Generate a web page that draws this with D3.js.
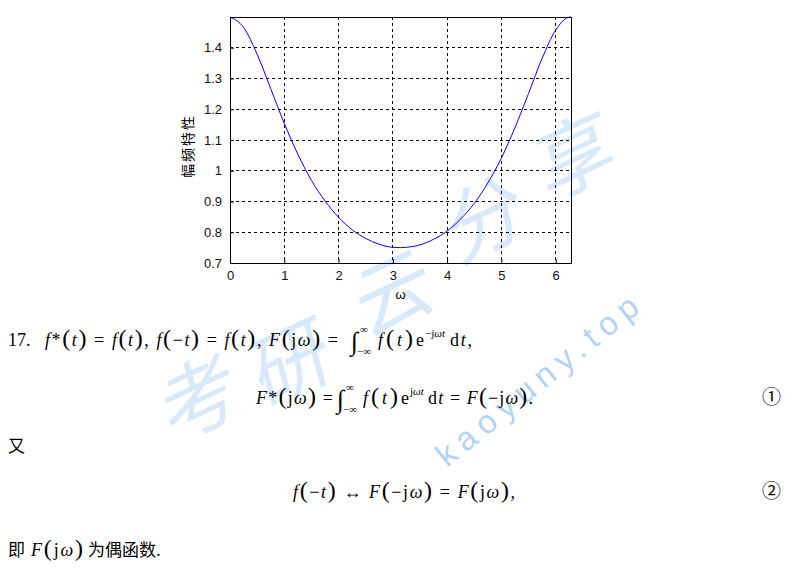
<!DOCTYPE html>
<html><head><meta charset="utf-8">
<script src="https://cdn.jsdelivr.net/npm/d3@7"></script>
<style>body{margin:0;background:#fff}svg{display:block}
.serif{font-family:'Liberation Serif','Times New Roman',serif}
.cjk{font-family:'Noto Sans CJK SC',sans-serif}
.sans{font-family:'Liberation Sans',Arial,sans-serif}
</style>
</head><body>
<script>
// ---- data ----
const omega = [0,0.25,0.5,0.75,1.0,1.25,1.5,1.75,2.0,2.25,2.5,2.75,3.0,3.1416,3.25,3.5,3.75,4.0,4.25,4.5,4.75,5.0,5.25,5.5,5.75,6.0,6.25,6.2832];
const magnitude = [1.5,1.466,1.379,1.267,1.154,1.054,0.969,0.902,0.849,0.808,0.780,0.761,0.751,0.750,0.751,0.759,0.777,0.804,0.843,0.894,0.960,1.041,1.140,1.251,1.365,1.457,1.4995,1.5];
const xTicks = [0,1,2,3,4,5,6];
const yTicks = [0.7,0.8,0.9,1.0,1.1,1.2,1.3,1.4];
const xDomain = [0, 6.2832];
const yDomain = [0.7, 1.5];
const xLabel = "ω";
const yLabel = "幅频特性";

const W = 788, H = 569;
const svg = d3.select("body").append("svg").attr("width", W).attr("height", H);

// ---- watermark ----
const wm = svg.append("g").attr("fill", "#d8e9fc");
const wmChars = ["考","研","云","分","享"];
const wmPos = [[198,392],[290,356],[392,286],[484,212],[574,150]];
wmChars.forEach((c,i)=>{
  wm.append("text").attr("class","cjk").attr("transform",`translate(${wmPos[i][0]},${wmPos[i][1]}) rotate(-25) skewX(-10)`)
    .attr("text-anchor","middle").attr("dominant-baseline","central")
    .attr("font-size",80).text(c);
});
svg.append("text").attr("class","sans").attr("transform","translate(447,468) rotate(-39)")
  .attr("font-size",33).attr("fill","#b3d3f5")
  .attr("textLength",250).attr("lengthAdjust","spacing").text("kaoyuny.top");

// ---- plot ----
const L = 230, R = 571, T = 17, B = 263;
const x = d3.scaleLinear().domain(xDomain).range([L, R]);
const y = d3.scaleLinear().domain(yDomain).range([B, T]);
const g = svg.append("g");

// grid
g.append("g").selectAll("line").data(xTicks.filter(d=>d>0)).join("line")
  .attr("x1",d=>x(d)).attr("x2",d=>x(d)).attr("y1",T).attr("y2",B)
  .attr("stroke","#000").attr("stroke-dasharray","3,3").attr("shape-rendering","crispEdges");
g.append("g").selectAll("line").data(yTicks.filter(d=>d>0.7)).join("line")
  .attr("x1",L).attr("x2",R).attr("y1",d=>y(d)).attr("y2",d=>y(d))
  .attr("stroke","#000").attr("stroke-dasharray","3,3").attr("shape-rendering","crispEdges");

// axes with d3
const xAxis = d3.axisBottom(x).tickValues(xTicks).tickFormat(d3.format("d")).tickSizeInner(-4).tickSizeOuter(0).tickPadding(6);
const yAxis = d3.axisLeft(y).tickValues(yTicks).tickFormat(d=>String(+d.toFixed(1))).tickSizeInner(-4).tickSizeOuter(0).tickPadding(8);
const gx = g.append("g").attr("transform",`translate(0,${B})`).call(xAxis);
const gy = g.append("g").attr("transform",`translate(${L},0)`).call(yAxis);
[gx,gy].forEach(a=>{
  a.select(".domain").remove();
  a.selectAll("line").attr("stroke","#000");
  a.selectAll("text").attr("class","sans").attr("font-family",null).attr("font-size",13).attr("fill","#111");
});
gx.selectAll("text").attr("dy","0.85em");

// line
const line = d3.line().x((d,i)=>x(omega[i])).y(d=>y(d)).curve(d3.curveMonotoneX);
g.append("path").datum(magnitude).attr("d",line).attr("fill","none").attr("stroke","#0000ff").attr("stroke-width",1);

// box
g.append("rect").attr("x",L).attr("y",T).attr("width",R-L).attr("height",B-T)
  .attr("fill","none").attr("stroke","#000").attr("stroke-width",1).attr("shape-rendering","crispEdges");

// labels
g.append("text").attr("class","sans").attr("x",(L+R)/2).attr("y",299).attr("text-anchor","middle")
  .attr("font-size",13).text(xLabel);
g.append("text").attr("class","cjk").attr("transform",`translate(193,146) rotate(-90)`).attr("text-anchor","middle")
  .attr("font-size",14).attr("letter-spacing",2).text(yLabel);

// ---- text below the chart ----
function mtext(x0, y0, parts, len, size=18){
  const t = svg.append("text").attr("class","serif").attr("x",x0).attr("y",y0).attr("font-size",size).attr("fill","#000");
  parts.forEach(p=>{
    const [s,o] = typeof p === "string" ? [p,{}] : p;
    const ts = t.append("tspan").text(s);
    if(o.i) ts.attr("font-style","italic");
    if(o.s) ts.attr("font-size",o.s);
  });
  if(len) t.attr("textLength",len).attr("lengthAdjust","spacing");
  return t;
}
const P = s=>[s,{s:24}];
function integral(x0, yb){
  svg.append("text").attr("class","serif").attr("x",x0).attr("y",yb+4).attr("font-size",26).text("∫");
  svg.append("text").attr("class","serif").attr("x",x0+9).attr("y",yb-13).attr("font-size",11).text("∞");
  svg.append("text").attr("class","serif").attr("x",x0+6).attr("y",yb+9).attr("font-size",11).text("−∞");
}
function supJwt(x0, yb, neg){
  const t = svg.append("text").attr("class","serif").attr("x",x0).attr("y",yb-9).attr("font-size",11);
  if(neg) t.append("tspan").text("−");
  t.append("tspan").text("j");
  t.append("tspan").attr("font-style","italic").text("ωt");
}

// line 1
svg.append("text").attr("class","serif").attr("x",8).attr("y",346).attr("font-size",18).text("17.");
mtext(45,346,[["f",{i:1}],"*",P("("),["t",{i:1}],P(")")," = ",["f",{i:1}],P("("),["t",{i:1}],P(")"),",  ",
  ["f",{i:1}],P("("),"−",["t",{i:1}],P(")")," = ",["f",{i:1}],P("("),["t",{i:1}],P(")"),", ",
  ["F",{i:1}],P("("),"j",["ω",{i:1}],P(")")," ="], 293);
integral(351,346);
mtext(378,346,[["f",{i:1}],P("("),["t",{i:1}],P(")"),"e"], 46);
supJwt(425,346,true);
mtext(450,346,["d",["t",{i:1}],","], 22);

// line 2
mtext(256,404,[["F",{i:1}],"*",P("("),"j",["ω",{i:1}],P(")")," ="], 77);
integral(337,404);
mtext(363,404,[["f",{i:1}],P("("),["t",{i:1}],P(")"),"e"], 46);
supJwt(410,404,false);
mtext(428,404,["d",["t",{i:1}]," = ",["F",{i:1}],P("("),"−j",["ω",{i:1}],P(")"),"."], 105);
svg.append("text").attr("class","cjk").attr("x",762).attr("y",404).attr("font-size",19).text("①");

// 又
svg.append("text").attr("class","cjk").attr("x",8).attr("y",452).attr("font-size",17).text("又");

// line 3
mtext(293,498,[["f",{i:1}],P("("),"−",["t",{i:1}],P(")")," ↔ ",["F",{i:1}],P("("),"−j",["ω",{i:1}],P(")")," = ",
  ["F",{i:1}],P("("),"j",["ω",{i:1}],P(")"),","], 222);
svg.append("text").attr("class","cjk").attr("x",762).attr("y",498).attr("font-size",19).text("②");

// line 4
svg.append("text").attr("class","cjk").attr("x",8).attr("y",556).attr("font-size",17).text("即");
mtext(31,556,[["F",{i:1}],P("("),"j",["ω",{i:1}],P(")")], 52);
svg.append("text").attr("class","cjk").attr("x",88).attr("y",556).attr("font-size",17).text("为偶函数.");
</script>
</body></html>
